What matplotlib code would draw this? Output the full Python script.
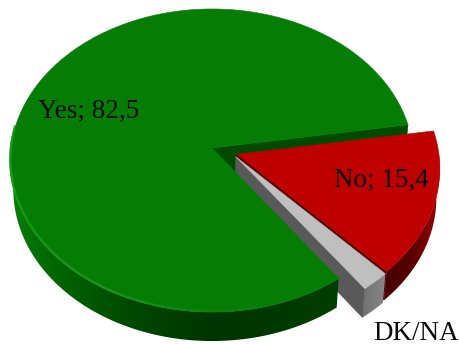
import numpy as np
import matplotlib
matplotlib.use("Agg")
import matplotlib.pyplot as plt
from matplotlib.patches import Polygon

# listed in the order they run round the pie
labels = ["Yes", "DK/NA", "No"]
values = [82.5, 2.1, 15.4]

# tilted disc: pixel centre, radii and perspective strength
CX, CY = 212, 148
RX, RY = 201, 150.5
K = 0.0825
DEPTH = 29
TAPER = 0.985
START = 9.0
OFFSETS = {"Yes": (0, 0), "No": (0.125, -0.042), "DK/NA": (0.118, -0.058)}


def project(x, y):
    w = 1 + K * y
    return CX + RX * x / w, CY - RY * y / w


def lower(pts):
    # same points on the underside of the disc
    pts = np.atleast_2d(pts)
    return np.column_stack([CX + (pts[:, 0] - CX) * TAPER, pts[:, 1] + DEPTH])


def wedge_top(a0, a1, off):
    t = np.radians(np.linspace(a0, a1, 200))
    x = np.concatenate([[off[0]], off[0] + np.cos(t)])
    y = np.concatenate([[off[1]], off[1] + np.sin(t)])
    return np.column_stack(project(x, y))


def arc(a0, a1, off, n=200):
    t = np.radians(np.linspace(a0, a1, n))
    return np.column_stack(project(off[0] + np.cos(t), off[1] + np.sin(t)))


def shade(px, stops):
    xs = [s[0] for s in stops]
    return np.array([np.interp(px, xs, [s[1][i] / 255 for s in stops]) for i in range(3)])


def outer_wall(ax, a0, a1, off, stops, z):
    # side of the slice: a left-to-right gradient clipped to the wall outline
    pts = arc(a0, a1, off, 240)
    outline = np.vstack([pts, lower(pts)[::-1]])
    x0, x1 = outline[:, 0].min(), outline[:, 0].max()
    y0, y1 = outline[:, 1].min(), outline[:, 1].max()
    grad = shade(np.linspace(x0, x1, 256), stops).T[np.newaxis, :, :]
    im = ax.imshow(grad, extent=(x0, x1, y1, y0), aspect="auto", zorder=z)
    patch = Polygon(outline, closed=True, fc="none", ec="none", transform=ax.transData)
    ax.add_patch(patch)
    im.set_clip_path(patch)


def cut_wall(ax, off, angle, color, z):
    p = np.array(project(*off))
    q = arc(angle, angle, off, 1)[0]
    poly = np.vstack([p, q, lower(q), lower(p)])
    ax.add_patch(Polygon(poly, closed=True, fc=color, ec=color, lw=0.4, zorder=z))


def top_face(ax, a0, a1, off, color, z):
    ax.add_patch(Polygon(wedge_top(a0, a1, off), closed=True, fc=color,
                         ec=color, lw=0.4, zorder=z))


fig = plt.figure(figsize=(4.59, 3.45), dpi=100)
ax = fig.add_axes([0, 0, 1, 1])
ax.axis("off")

# slice angles, running counter-clockwise from the right
spans = {}
a = START
for name, v in zip(labels, values):
    spans[name] = (a, a + v * 3.6)
    a += v * 3.6

GREEN_SIDE = [(9, (10, 125, 10)), (60, (0, 100, 0)), (130, (0, 72, 0)),
              (215, (0, 52, 0)), (340, (0, 62, 0))]
RED_SIDE = [(385, (70, 0, 0)), (410, (85, 0, 0)), (437, (150, 0, 0))]
GREY_SIDE = [(360, (110, 110, 110)), (385, (135, 135, 135))]

g0, g1 = spans["Yes"]
r0, r1 = spans["No"]
d0, d1 = spans["DK/NA"]

# walls first: the green top has to hide what sits below its cut edge
cut_wall(ax, OFFSETS["Yes"], g0, "#004a00", 1)
outer_wall(ax, r0, 360, OFFSETS["No"], RED_SIDE, 2)
cut_wall(ax, OFFSETS["No"], r0, "#5a0000", 2.5)
outer_wall(ax, d0, d1, OFFSETS["DK/NA"], GREY_SIDE, 3)
cut_wall(ax, OFFSETS["DK/NA"], d0, "#595959", 3.5)
outer_wall(ax, 178, g1, OFFSETS["Yes"], GREEN_SIDE, 4)

top_face(ax, g0, g1, OFFSETS["Yes"], "#057d05", 5)

# light rim along the front of the green top
rim = arc(172, g1, (0, 0), 160) + [0, -1]
for p, q in zip(rim[:-1], rim[1:]):
    c = shade(p[0], [(9, (20, 155, 20)), (120, (25, 145, 25)), (230, (8, 128, 8)),
                     (340, (5, 125, 5))])
    ax.plot([p[0], q[0]], [p[1], q[1]], color=c, lw=1.6, zorder=6,
            solid_capstyle="round")

top_face(ax, r0, r1, OFFSETS["No"], "#bf0000", 7)
top_face(ax, d0, d1, OFFSETS["DK/NA"], "#bfbfbf", 8)

ax.set_xlim(0, 459)
ax.set_ylim(345, 0)

font = ["Liberation Serif", "DejaVu Serif"]
for name, v, (tx, ty) in zip(labels, values, [(89, 111), (416, 333), (381, 180)]):
    text = name if name == "DK/NA" else f"{name}; {v}".replace(".", ",")
    ax.text(tx, ty, text, ha="center", va="center", fontsize=19.5,
            color="#0a0a0a", family=font, zorder=10)

fig.savefig("out.png", dpi=100)
